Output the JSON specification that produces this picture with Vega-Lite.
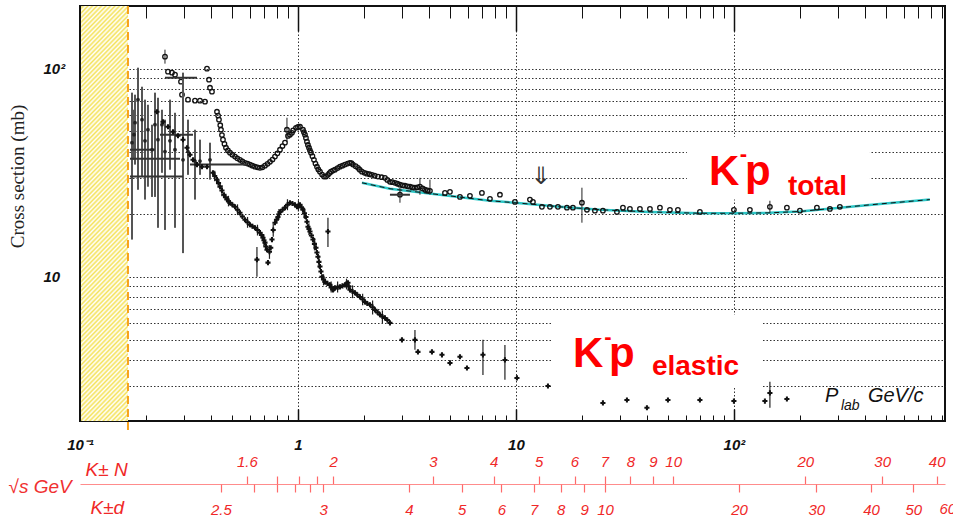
{
  "$schema": "https://vega.github.io/schema/vega-lite/v6.json",
  "width": 865,
  "height": 415,
  "autosize": {"type": "none"},
  "padding": {"left": 80, "top": 6, "right": 8, "bottom": 98},
  "background": "white",
  "config": {"view": {"stroke": "#111", "strokeWidth": 2}, "axis": {"grid": false, "domain": false}},
  "resolve": {"axis": {"x": "independent", "y": "independent"}},
  "datasets": {
    "hatch": [{"p1": 0.1012, "p2": 0.166}],
    "boxes": [
      {"p1": 60.85, "p2": 420.6, "s1": 23.5, "s2": 47.1},
      {"p1": 14.63, "p2": 135.8, "s1": 2.93, "s2": 6.57}
    ],
    "fit": [
      {"p": 1.966, "s": 28.3}, {"p": 2.6425, "s": 26.5}, {"p": 4.4817, "s": 24.8}, {"p": 7.6, "s": 23.2},
      {"p": 9.8946, "s": 22.7}, {"p": 15.916, "s": 21.7}, {"p": 24.282, "s": 21.0}, {"p": 41.187, "s": 20.5},
      {"p": 69.823, "s": 20.2}, {"p": 98.946, "s": 20.2}, {"p": 146.27, "s": 20.3}, {"p": 200.83, "s": 20.6},
      {"p": 306.35, "s": 21.5}, {"p": 467.3, "s": 22.4}, {"p": 792.6, "s": 23.5}
    ],
    "tot": [
      {"p": 0.2454, "s": 114.2, "lo": 105.7, "hi": 123.4},
      {"p": 0.2533, "s": 96.7}, {"p": 0.2642, "s": 95.7}, {"p": 0.2728, "s": 93.6}, {"p": 0.2906, "s": 86.6},
      {"p": 0.2937, "s": 75.0}, {"p": 0.3129, "s": 71.0}, {"p": 0.3369, "s": 70.2}, {"p": 0.3552, "s": 70.2},
      {"p": 0.3745, "s": 69.4}, {"p": 0.3825, "s": 100}, {"p": 0.3907, "s": 88.5}, {"p": 0.3948, "s": 81.0},
      {"p": 0.4032, "s": 77.5}, {"p": 0.425, "s": 62.1}, {"p": 0.4341, "s": 56.9}, {"p": 0.4434, "s": 50.9},
      {"p": 0.4529, "s": 45.6}, {"p": 0.4674, "s": 41.7}, {"p": 0.4876, "s": 39.5}, {"p": 0.5141, "s": 37.8},
      {"p": 0.5419, "s": 36.5}, {"p": 0.5713, "s": 35.3}, {"p": 0.6023, "s": 34.6}, {"p": 0.635, "s": 33.8},
      {"p": 0.6695, "s": 33.4}, {"p": 0.7058, "s": 34.2}, {"p": 0.744, "s": 35.7}, {"p": 0.7843, "s": 37.8},
      {"p": 0.827, "s": 40.8}, {"p": 0.8718, "s": 44.1}, {"p": 0.8903, "s": 50.9, "lo": 44.6, "hi": 58.1},
      {"p": 0.919, "s": 48.2}, {"p": 0.9386, "s": 49.2}, {"p": 0.9791, "s": 52.0}, {"p": 1.0214, "s": 52.6},
      {"p": 1.0541, "s": 50.9}, {"p": 1.0767, "s": 48.2}, {"p": 1.0997, "s": 44.6}, {"p": 1.1233, "s": 41.7},
      {"p": 1.1472, "s": 39.5}, {"p": 1.1841, "s": 36.5}, {"p": 1.2222, "s": 33.8}, {"p": 1.2616, "s": 32.0},
      {"p": 1.316, "s": 30.3}, {"p": 1.3726, "s": 30.9}, {"p": 1.4168, "s": 32.0}, {"p": 1.4781, "s": 32.7},
      {"p": 1.5584, "s": 33.8}, {"p": 1.6429, "s": 34.6}, {"p": 1.7318, "s": 35.3}, {"p": 1.7875, "s": 34.6},
      {"p": 1.8846, "s": 33.4}, {"p": 1.966, "s": 32.0}, {"p": 2.0727, "s": 31.3}, {"p": 2.1851, "s": 30.9},
      {"p": 2.328, "s": 30.3}, {"p": 2.5066, "s": 29.9}, {"p": 2.6425, "s": 28.6}, {"p": 2.7861, "s": 28.3},
      {"p": 2.9374, "s": 27.7}, {"p": 3.0964, "s": 27.4}, {"p": 3.264, "s": 27.1}, {"p": 3.4412, "s": 26.8},
      {"p": 3.6278, "s": 27.1, "lo": 24.8, "hi": 29.9}, {"p": 3.8247, "s": 26.2},
      {"p": 4.0321, "s": 25.9, "lo": 24.8, "hi": 29.3}, {"p": 4.7248, "s": 25.3}, {"p": 4.9809, "s": 25.6},
      {"p": 5.5355, "s": 24.2}, {"p": 6.1518, "s": 24.5}, {"p": 6.9823, "s": 25.3}, {"p": 7.6, "s": 23.7},
      {"p": 8.445, "s": 24.8}, {"p": 9.8946, "s": 22.9}, {"p": 11.594, "s": 23.5}, {"p": 11.967, "s": 22.9},
      {"p": 13.16, "s": 21.7}, {"p": 14.322, "s": 21.7}, {"p": 15.584, "s": 21.7}, {"p": 17.136, "s": 21.5},
      {"p": 18.255, "s": 21.5}, {"p": 20.082, "s": 22.7, "lo": 18.2, "hi": 26.8}, {"p": 21.171, "s": 21.0},
      {"p": 23.034, "s": 20.8}, {"p": 25.063, "s": 20.8}, {"p": 29.061, "s": 20.5}, {"p": 30.965, "s": 21.5},
      {"p": 33.336, "s": 21.2}, {"p": 37.052, "s": 21.2}, {"p": 41.187, "s": 21.2}, {"p": 45.779, "s": 21.5},
      {"p": 50.88, "s": 21.0}, {"p": 55.348, "s": 21.0}, {"p": 69.823, "s": 20.5}, {"p": 100, "s": 21.0},
      {"p": 118.41, "s": 21.0}, {"p": 146.27, "s": 21.7, "lo": 20.3, "hi": 23.2}, {"p": 175.04, "s": 21.5},
      {"p": 200.83, "s": 20.8}, {"p": 240.35, "s": 21.5}, {"p": 275.68, "s": 21.2}, {"p": 306.35, "s": 21.7},
      {"p": 2.9374, "s": 24.8, "lo": 22.7, "hi": 26.8},
      {"p": 0.43, "s": 59.5}, {"p": 0.44, "s": 53.5}, {"p": 0.448, "s": 48}, {"p": 0.46, "s": 43.5},
      {"p": 0.477, "s": 40.5}, {"p": 0.5, "s": 38.6}, {"p": 0.527, "s": 37.1}, {"p": 0.556, "s": 35.9},
      {"p": 0.587, "s": 35}, {"p": 0.618, "s": 34.2}, {"p": 0.652, "s": 33.6}, {"p": 0.687, "s": 33.6},
      {"p": 0.725, "s": 34.9}, {"p": 0.764, "s": 36.6}, {"p": 0.805, "s": 39.2}, {"p": 0.849, "s": 42.5},
      {"p": 0.9, "s": 47.5}, {"p": 0.95, "s": 50.5}, {"p": 1.0, "s": 52.5}, {"p": 1.065, "s": 49.5},
      {"p": 1.088, "s": 46.5}, {"p": 1.111, "s": 43}, {"p": 1.135, "s": 40.5}, {"p": 1.165, "s": 38},
      {"p": 1.203, "s": 35}, {"p": 1.24, "s": 32.8}, {"p": 1.29, "s": 31}, {"p": 1.345, "s": 30.3},
      {"p": 1.395, "s": 31.5}, {"p": 1.447, "s": 32.4}, {"p": 1.52, "s": 33.3}, {"p": 1.6, "s": 34.2},
      {"p": 1.69, "s": 35}, {"p": 1.76, "s": 35.2}, {"p": 1.84, "s": 34}, {"p": 1.92, "s": 32.7},
      {"p": 2.02, "s": 31.6}, {"p": 2.13, "s": 31.1}, {"p": 2.25, "s": 30.6}, {"p": 2.42, "s": 30.1},
      {"p": 2.57, "s": 29.2}, {"p": 2.71, "s": 28.5}, {"p": 2.86, "s": 28.0}, {"p": 3.02, "s": 27.5},
      {"p": 3.18, "s": 27.2}, {"p": 3.35, "s": 26.9}, {"p": 3.53, "s": 26.9}, {"p": 3.73, "s": 26.6},
      {"p": 3.93, "s": 26.0}
    ],
    "el": [
      {"p": 0.2255, "s": 62.1}, {"p": 0.2403, "s": 55.6}, {"p": 0.2533, "s": 52.6}, {"p": 0.2671, "s": 49.8},
      {"p": 0.2815, "s": 47.6}, {"p": 0.2969, "s": 45.6}, {"p": 0.3096, "s": 41.7}, {"p": 0.3196, "s": 38.6},
      {"p": 0.3299, "s": 36.5}, {"p": 0.3441, "s": 34.6}, {"p": 0.3628, "s": 33.8}, {"p": 0.3825, "s": 33.8},
      {"p": 0.4075, "s": 31.6}, {"p": 0.425, "s": 29.3}, {"p": 0.4387, "s": 27.1}, {"p": 0.4577, "s": 24.8},
      {"p": 0.4724, "s": 23.5}, {"p": 0.4876, "s": 22.7}, {"p": 0.5141, "s": 21.7}, {"p": 0.5419, "s": 20.3},
      {"p": 0.5713, "s": 18.8}, {"p": 0.6023, "s": 17.8}, {"p": 0.635, "s": 17.2}, {"p": 0.6695, "s": 16.3},
      {"p": 0.6911, "s": 15.4}, {"p": 0.7058, "s": 14.6}, {"p": 0.7209, "s": 13.5}, {"p": 0.7285, "s": 11.7},
      {"p": 0.7599, "s": 15.1}, {"p": 0.7843, "s": 18.2}, {"p": 0.8095, "s": 19.4}, {"p": 0.827, "s": 20.5},
      {"p": 0.8718, "s": 21.5}, {"p": 0.919, "s": 22.7}, {"p": 0.9688, "s": 22.2}, {"p": 0.9895, "s": 21.7},
      {"p": 1.0214, "s": 22.2}, {"p": 1.0541, "s": 21.0}, {"p": 1.0881, "s": 19.4}, {"p": 1.1114, "s": 17.4},
      {"p": 1.1352, "s": 16.5}, {"p": 1.1717, "s": 15.1}, {"p": 1.2093, "s": 13.8}, {"p": 1.235, "s": 12.5},
      {"p": 1.2616, "s": 11.2}, {"p": 1.2886, "s": 10.0}, {"p": 1.3301, "s": 9.46}, {"p": 1.4019, "s": 9.15},
      {"p": 1.4473, "s": 8.66}, {"p": 1.4781, "s": 8.85}, {"p": 1.5584, "s": 8.95}, {"p": 1.6429, "s": 9.15},
      {"p": 1.6958, "s": 9.36}, {"p": 1.7318, "s": 8.66}, {"p": 1.8258, "s": 8.38}, {"p": 1.9248, "s": 8.01},
      {"p": 2.0293, "s": 7.58}, {"p": 2.1396, "s": 7.34}, {"p": 2.2556, "s": 6.94}, {"p": 2.3776, "s": 6.57},
      {"p": 2.5066, "s": 6.35}, {"p": 2.6425, "s": 6.01}, {"p": 2.9999, "s": 4.98},
      {"p": 3.4412, "s": 4.98, "lo": 4.46, "hi": 5.56}, {"p": 3.5521, "s": 4.36}, {"p": 4.1182, "s": 4.36},
      {"p": 4.5776, "s": 4.22}, {"p": 4.9809, "s": 3.86}, {"p": 5.5355, "s": 4.13}, {"p": 5.9605, "s": 3.65},
      {"p": 7.0574, "s": 4.22, "lo": 3.38, "hi": 4.98}, {"p": 8.9022, "s": 3.99, "lo": 3.2, "hi": 4.71},
      {"p": 10.106, "s": 3.27}, {"p": 14.024, "s": 2.99}, {"p": 25.063, "s": 2.48}, {"p": 32.299, "s": 2.56},
      {"p": 39.901, "s": 2.35}, {"p": 49.815, "s": 2.56}, {"p": 69.823, "s": 2.56}, {"p": 100, "s": 2.53},
      {"p": 138.74, "s": 2.53}, {"p": 146.27, "s": 2.77, "lo": 2.35, "hi": 3.13}, {"p": 175.04, "s": 2.59},
      {"p": 0.6483, "s": 12.1, "lo": 10.0, "hi": 13.9}, {"p": 1.3726, "s": 16.5, "lo": 13.9, "hi": 19.2},
      {"p": 0.415, "s": 30.5, "lo": 28.8, "hi": 32.3}, {"p": 0.432, "s": 28.2}, {"p": 0.448, "s": 26, "lo": 24.4, "hi": 27.6},
      {"p": 0.465, "s": 24.1}, {"p": 0.48, "s": 23.1, "lo": 21.8, "hi": 24.5}, {"p": 0.5, "s": 22.2},
      {"p": 0.528, "s": 21, "lo": 19.8, "hi": 22.3}, {"p": 0.556, "s": 19.5}, {"p": 0.587, "s": 18.3, "lo": 17.2, "hi": 19.4},
      {"p": 0.618, "s": 17.5}, {"p": 0.652, "s": 16.8, "lo": 15.8, "hi": 17.8}, {"p": 0.68, "s": 15.9},
      {"p": 0.698, "s": 15, "lo": 14.0, "hi": 16.0}, {"p": 0.713, "s": 14}, {"p": 0.74, "s": 13.2, "lo": 12.2, "hi": 14.2},
      {"p": 0.75, "s": 13.8}, {"p": 0.77, "s": 16.8, "lo": 15.6, "hi": 18.0}, {"p": 0.797, "s": 18.8},
      {"p": 0.818, "s": 20, "lo": 18.8, "hi": 21.2}, {"p": 0.85, "s": 21}, {"p": 0.895, "s": 22.2, "lo": 20.9, "hi": 23.6},
      {"p": 0.943, "s": 22.5}, {"p": 1.005, "s": 21.9, "lo": 20.6, "hi": 23.3}, {"p": 1.037, "s": 21.6},
      {"p": 1.071, "s": 20.2, "lo": 19.0, "hi": 21.5}, {"p": 1.1, "s": 18.4}, {"p": 1.123, "s": 17, "lo": 15.9, "hi": 18.1},
      {"p": 1.153, "s": 15.8}, {"p": 1.19, "s": 14.4, "lo": 13.4, "hi": 15.4}, {"p": 1.222, "s": 13.1},
      {"p": 1.248, "s": 11.8, "lo": 11.0, "hi": 12.7}, {"p": 1.275, "s": 10.6}, {"p": 1.31, "s": 9.7, "lo": 9.1, "hi": 10.3},
      {"p": 1.365, "s": 9.3}, {"p": 1.42, "s": 8.9, "lo": 8.4, "hi": 9.5}, {"p": 1.46, "s": 8.75},
      {"p": 1.52, "s": 8.9, "lo": 8.4, "hi": 9.5}, {"p": 1.6, "s": 9.05}, {"p": 1.67, "s": 9.25, "lo": 8.7, "hi": 9.8},
      {"p": 1.71, "s": 9.0}, {"p": 1.78, "s": 8.5, "lo": 7.9, "hi": 9.1}, {"p": 1.87, "s": 8.2},
      {"p": 1.98, "s": 7.8, "lo": 7.3, "hi": 8.3}, {"p": 2.08, "s": 7.45}, {"p": 2.2, "s": 7.15, "lo": 6.6, "hi": 7.7},
      {"p": 2.32, "s": 6.75}, {"p": 2.44, "s": 6.45, "lo": 6.0, "hi": 6.9}, {"p": 2.57, "s": 6.2}
    ],
    "low": [
      {"p": 0.1732, "s": 44.1, "lo": 15.1, "hi": 76.7}, {"p": 0.1769, "s": 48.2, "lo": 36.5, "hi": 63.5},
      {"p": 0.1845, "s": 71.0, "lo": 26.2, "hi": 101.1}, {"p": 0.1925, "s": 56.9, "lo": 30.3, "hi": 81.9},
      {"p": 0.205, "s": 50.9, "lo": 27.1, "hi": 67.1}, {"p": 0.214, "s": 40.8, "lo": 24.2, "hi": 53.8},
      {"p": 0.2208, "s": 53.8, "lo": 24.2, "hi": 76.7}, {"p": 0.2279, "s": 45.6, "lo": 17.2, "hi": 72.5},
      {"p": 0.2377, "s": 53.8, "lo": 31.6, "hi": 63.5}, {"p": 0.2728, "s": 40.8, "lo": 17.2, "hi": 61.4},
      {"p": 0.2969, "s": 36.5, "lo": 13.0, "hi": 95.7}, {"p": 0.3948, "s": 36.5, "lo": 29.3, "hi": 44.1},
      {"p": 0.1788, "s": 55, "lo": 34.6, "hi": 75.0}, {"p": 0.1987, "s": 45, "lo": 23.5, "hi": 71.0},
      {"p": 0.2454, "s": 40, "lo": 16.8, "hi": 56.9}, {"p": 0.2587, "s": 45, "lo": 32.7, "hi": 71.0},
      {"p": 0.3129, "s": 40, "lo": 30.9, "hi": 56.9}, {"p": 0.3369, "s": 36, "lo": 23.5, "hi": 50.9},
      {"p": 0.3552, "s": 36, "lo": 30.9, "hi": 45.6}
    ],
    "hb": [
      {"s": 90.5, "p1": 0.2454, "p2": 0.3441}, {"s": 48.2, "p1": 0.2328, "p2": 0.3299},
      {"s": 40.8, "p1": 0.1696, "p2": 0.2208}, {"s": 36.9, "p1": 0.1696, "p2": 0.2876},
      {"s": 30.3, "p1": 0.1696, "p2": 0.2969}, {"s": 34.6, "p1": 0.3196, "p2": 0.5836},
      {"s": 24.8, "p1": 2.6425, "p2": 3.264}
    ],
    "big": [
      {"p": 76.8, "s": 27.7, "t": "K"}, {"p": 112.3, "s": 27.7, "t": "p"},
      {"p": 18.25, "s": 3.69, "t": "K"}, {"p": 26.71, "s": 3.69, "t": "p"}
    ],
    "sup": [{"p": 106.5, "s": 36.1, "t": "-"}, {"p": 25.4, "s": 4.76, "t": "-"}],
    "sub": [{"p": 176.9, "s": 24.8, "t": "total"}, {"p": 42.06, "s": 3.38, "t": "elastic"}],
    "plab": [{"p": 261.5, "s": 2.506, "t": "P"}, {"p": 411.9, "s": 2.506, "t": "GeV/c"}],
    "plabsub": [{"p": 309.6, "s": 2.294, "t": "lab"}],
    "arrow": [{"p": 13.02, "s": 30.1, "t": "⇓"}],
    "edge": [{"p": 958.69, "s": 0.725, "t": "60"}]
  },
  "layer": [
    {
      "data": {"name": "hatch"},
      "mark": {"type": "rect", "fill": {"gradient": "linear", "x1": 0, "y1": 0, "x2": 0.1275, "y2": 1.101, "stops": [
        {"offset": 0, "color": "#fff"}, {"offset": 0.005, "color": "#f4e25a"}, {"offset": 0.01, "color": "#fff"}, {"offset": 0.015, "color": "#f4e25a"},
        {"offset": 0.02, "color": "#fff"}, {"offset": 0.025, "color": "#f4e25a"}, {"offset": 0.03, "color": "#fff"}, {"offset": 0.035, "color": "#f4e25a"},
        {"offset": 0.04, "color": "#fff"}, {"offset": 0.045, "color": "#f4e25a"}, {"offset": 0.05, "color": "#fff"}, {"offset": 0.055, "color": "#f4e25a"},
        {"offset": 0.06, "color": "#fff"}, {"offset": 0.065, "color": "#f4e25a"}, {"offset": 0.07, "color": "#fff"}, {"offset": 0.075, "color": "#f4e25a"},
        {"offset": 0.08, "color": "#fff"}, {"offset": 0.085, "color": "#f4e25a"}, {"offset": 0.09, "color": "#fff"}, {"offset": 0.095, "color": "#f4e25a"},
        {"offset": 0.1, "color": "#fff"}, {"offset": 0.105, "color": "#f4e25a"}, {"offset": 0.11, "color": "#fff"}, {"offset": 0.115, "color": "#f4e25a"},
        {"offset": 0.12, "color": "#fff"}, {"offset": 0.125, "color": "#f4e25a"}, {"offset": 0.13, "color": "#fff"}, {"offset": 0.135, "color": "#f4e25a"},
        {"offset": 0.14, "color": "#fff"}, {"offset": 0.145, "color": "#f4e25a"}, {"offset": 0.15, "color": "#fff"}, {"offset": 0.155, "color": "#f4e25a"},
        {"offset": 0.16, "color": "#fff"}, {"offset": 0.165, "color": "#f4e25a"}, {"offset": 0.17, "color": "#fff"}, {"offset": 0.175, "color": "#f4e25a"},
        {"offset": 0.18, "color": "#fff"}, {"offset": 0.185, "color": "#f4e25a"}, {"offset": 0.19, "color": "#fff"}, {"offset": 0.195, "color": "#f4e25a"},
        {"offset": 0.2, "color": "#fff"}, {"offset": 0.205, "color": "#f4e25a"}, {"offset": 0.21, "color": "#fff"}, {"offset": 0.215, "color": "#f4e25a"},
        {"offset": 0.22, "color": "#fff"}, {"offset": 0.225, "color": "#f4e25a"}, {"offset": 0.23, "color": "#fff"}, {"offset": 0.235, "color": "#f4e25a"},
        {"offset": 0.24, "color": "#fff"}, {"offset": 0.245, "color": "#f4e25a"}, {"offset": 0.25, "color": "#fff"}, {"offset": 0.255, "color": "#f4e25a"},
        {"offset": 0.26, "color": "#fff"}, {"offset": 0.265, "color": "#f4e25a"}, {"offset": 0.27, "color": "#fff"}, {"offset": 0.275, "color": "#f4e25a"},
        {"offset": 0.28, "color": "#fff"}, {"offset": 0.285, "color": "#f4e25a"}, {"offset": 0.29, "color": "#fff"}, {"offset": 0.295, "color": "#f4e25a"},
        {"offset": 0.3, "color": "#fff"}, {"offset": 0.305, "color": "#f4e25a"}, {"offset": 0.31, "color": "#fff"}, {"offset": 0.315, "color": "#f4e25a"},
        {"offset": 0.32, "color": "#fff"}, {"offset": 0.325, "color": "#f4e25a"}, {"offset": 0.33, "color": "#fff"}, {"offset": 0.335, "color": "#f4e25a"},
        {"offset": 0.34, "color": "#fff"}, {"offset": 0.345, "color": "#f4e25a"}, {"offset": 0.35, "color": "#fff"}, {"offset": 0.355, "color": "#f4e25a"},
        {"offset": 0.36, "color": "#fff"}, {"offset": 0.365, "color": "#f4e25a"}, {"offset": 0.37, "color": "#fff"}, {"offset": 0.375, "color": "#f4e25a"},
        {"offset": 0.38, "color": "#fff"}, {"offset": 0.385, "color": "#f4e25a"}, {"offset": 0.39, "color": "#fff"}, {"offset": 0.395, "color": "#f4e25a"},
        {"offset": 0.4, "color": "#fff"}, {"offset": 0.405, "color": "#f4e25a"}, {"offset": 0.41, "color": "#fff"}, {"offset": 0.415, "color": "#f4e25a"},
        {"offset": 0.42, "color": "#fff"}, {"offset": 0.425, "color": "#f4e25a"}, {"offset": 0.43, "color": "#fff"}, {"offset": 0.435, "color": "#f4e25a"},
        {"offset": 0.44, "color": "#fff"}, {"offset": 0.445, "color": "#f4e25a"}, {"offset": 0.45, "color": "#fff"}, {"offset": 0.455, "color": "#f4e25a"},
        {"offset": 0.46, "color": "#fff"}, {"offset": 0.465, "color": "#f4e25a"}, {"offset": 0.47, "color": "#fff"}, {"offset": 0.475, "color": "#f4e25a"},
        {"offset": 0.48, "color": "#fff"}, {"offset": 0.485, "color": "#f4e25a"}, {"offset": 0.49, "color": "#fff"}, {"offset": 0.495, "color": "#f4e25a"},
        {"offset": 0.5, "color": "#fff"}, {"offset": 0.505, "color": "#f4e25a"}, {"offset": 0.51, "color": "#fff"}, {"offset": 0.515, "color": "#f4e25a"},
        {"offset": 0.52, "color": "#fff"}, {"offset": 0.525, "color": "#f4e25a"}, {"offset": 0.53, "color": "#fff"}, {"offset": 0.535, "color": "#f4e25a"},
        {"offset": 0.54, "color": "#fff"}, {"offset": 0.545, "color": "#f4e25a"}, {"offset": 0.55, "color": "#fff"}, {"offset": 0.555, "color": "#f4e25a"},
        {"offset": 0.56, "color": "#fff"}, {"offset": 0.565, "color": "#f4e25a"}, {"offset": 0.57, "color": "#fff"}, {"offset": 0.575, "color": "#f4e25a"},
        {"offset": 0.58, "color": "#fff"}, {"offset": 0.585, "color": "#f4e25a"}, {"offset": 0.59, "color": "#fff"}, {"offset": 0.595, "color": "#f4e25a"},
        {"offset": 0.6, "color": "#fff"}, {"offset": 0.605, "color": "#f4e25a"}, {"offset": 0.61, "color": "#fff"}, {"offset": 0.615, "color": "#f4e25a"},
        {"offset": 0.62, "color": "#fff"}, {"offset": 0.625, "color": "#f4e25a"}, {"offset": 0.63, "color": "#fff"}, {"offset": 0.635, "color": "#f4e25a"},
        {"offset": 0.64, "color": "#fff"}, {"offset": 0.645, "color": "#f4e25a"}, {"offset": 0.65, "color": "#fff"}, {"offset": 0.655, "color": "#f4e25a"},
        {"offset": 0.66, "color": "#fff"}, {"offset": 0.665, "color": "#f4e25a"}, {"offset": 0.67, "color": "#fff"}, {"offset": 0.675, "color": "#f4e25a"},
        {"offset": 0.68, "color": "#fff"}, {"offset": 0.685, "color": "#f4e25a"}, {"offset": 0.69, "color": "#fff"}, {"offset": 0.695, "color": "#f4e25a"},
        {"offset": 0.7, "color": "#fff"}, {"offset": 0.705, "color": "#f4e25a"}, {"offset": 0.71, "color": "#fff"}, {"offset": 0.715, "color": "#f4e25a"},
        {"offset": 0.72, "color": "#fff"}, {"offset": 0.725, "color": "#f4e25a"}, {"offset": 0.73, "color": "#fff"}, {"offset": 0.735, "color": "#f4e25a"},
        {"offset": 0.74, "color": "#fff"}, {"offset": 0.745, "color": "#f4e25a"}, {"offset": 0.75, "color": "#fff"}, {"offset": 0.755, "color": "#f4e25a"},
        {"offset": 0.76, "color": "#fff"}, {"offset": 0.765, "color": "#f4e25a"}, {"offset": 0.77, "color": "#fff"}, {"offset": 0.775, "color": "#f4e25a"},
        {"offset": 0.78, "color": "#fff"}, {"offset": 0.785, "color": "#f4e25a"}, {"offset": 0.79, "color": "#fff"}, {"offset": 0.795, "color": "#f4e25a"},
        {"offset": 0.8, "color": "#fff"}, {"offset": 0.805, "color": "#f4e25a"}, {"offset": 0.81, "color": "#fff"}, {"offset": 0.815, "color": "#f4e25a"},
        {"offset": 0.82, "color": "#fff"}, {"offset": 0.825, "color": "#f4e25a"}, {"offset": 0.83, "color": "#fff"}, {"offset": 0.835, "color": "#f4e25a"},
        {"offset": 0.84, "color": "#fff"}, {"offset": 0.845, "color": "#f4e25a"}, {"offset": 0.85, "color": "#fff"}, {"offset": 0.855, "color": "#f4e25a"},
        {"offset": 0.86, "color": "#fff"}, {"offset": 0.865, "color": "#f4e25a"}, {"offset": 0.87, "color": "#fff"}, {"offset": 0.875, "color": "#f4e25a"},
        {"offset": 0.88, "color": "#fff"}, {"offset": 0.885, "color": "#f4e25a"}, {"offset": 0.89, "color": "#fff"}, {"offset": 0.895, "color": "#f4e25a"},
        {"offset": 0.9, "color": "#fff"}, {"offset": 0.905, "color": "#f4e25a"}, {"offset": 0.91, "color": "#fff"}, {"offset": 0.915, "color": "#f4e25a"},
        {"offset": 0.92, "color": "#fff"}, {"offset": 0.925, "color": "#f4e25a"}, {"offset": 0.93, "color": "#fff"}, {"offset": 0.935, "color": "#f4e25a"},
        {"offset": 0.94, "color": "#fff"}, {"offset": 0.945, "color": "#f4e25a"}, {"offset": 0.95, "color": "#fff"}, {"offset": 0.955, "color": "#f4e25a"},
        {"offset": 0.96, "color": "#fff"}, {"offset": 0.965, "color": "#f4e25a"}, {"offset": 0.97, "color": "#fff"}, {"offset": 0.975, "color": "#f4e25a"},
        {"offset": 0.98, "color": "#fff"}, {"offset": 0.985, "color": "#f4e25a"}, {"offset": 0.99, "color": "#fff"}, {"offset": 0.995, "color": "#f4e25a"},
        {"offset": 1, "color": "#fff"}
      ]}},
      "encoding": {
        "x": {"field": "p1", "type": "quantitative", "scale": {"type": "log", "domain": [0.1, 930], "nice": false},
          "axis": {"orient": "bottom", "values": [0.1, 1, 10, 100], "tickSize": -12, "tickColor": "#111", "tickWidth": 1.5,
            "labelExpr": "datum.value < 0.5 ? '10⁻¹' : datum.value < 5 ? '1' : datum.value < 50 ? '10' : '10²'",
            "labelFont": "Liberation Sans", "labelFontSize": 15, "labelFontWeight": "bold", "labelFontStyle": "italic",
            "labelColor": "#111", "labelBaseline": "alphabetic", "labelAlign": "center", "labelPadding": 40, "labelFlush": false, "labelOverlap": false,
            "grid": false, "domain": false,
            "title": "√s GeV", "titleX": -72, "titleY": 71, "titleAlign": "left", "titleBaseline": "alphabetic", "titleAngle": 0,
            "titleFont": "Liberation Sans", "titleFontSize": 19, "titleFontStyle": "italic", "titleFontWeight": "normal", "titleColor": "#f03030"}},
        "x2": {"field": "p2"},
        "y": {"datum": 200, "type": "quantitative", "scale": {"type": "log", "domain": [2.03, 200], "nice": false},
          "axis": {"orient": "left", "values": [10, 100], "tickSize": -8, "tickColor": "#111", "tickWidth": 1.5,
            "labelExpr": "datum.value > 50 ? '10²' : '10'", "labelAlign": "left", "labelBaseline": "middle", "labelPadding": 45,
            "labelFont": "Liberation Sans", "labelFontSize": 15, "labelFontWeight": "bold", "labelFontStyle": "italic", "labelColor": "#111",
            "labelFlush": false, "labelOverlap": false, "grid": false, "domain": false,
            "title": "Cross section (mb)", "titleX": -63, "titleY": 170, "titleAngle": 270, "titleAlign": "center", "titleBaseline": "middle",
            "titleFont": "Liberation Serif", "titleFontSize": 19, "titleFontWeight": "normal", "titleColor": "#222"}},
        "y2": {"datum": 2.03}
      }
    },
    {
      "data": {"name": "boxes"},
      "mark": {"type": "rect", "fill": "white"},
      "encoding": {
        "x": {"field": "p1", "type": "quantitative", "scale": {"type": "log"},
          "axis": {"orient": "bottom", "values": [0.2, 0.3, 0.4, 0.5, 0.6, 0.7, 0.8, 0.9, 2, 3, 4, 5, 6, 7, 8, 9, 20, 30, 40, 50, 60, 70, 80, 90, 200, 300, 400, 500, 600, 700, 800, 900],
            "tickSize": -6, "tickColor": "#111", "tickWidth": 1, "labels": false, "grid": false, "domain": false, "title": null}},
        "x2": {"field": "p2"},
        "y": {"field": "s1", "type": "quantitative", "scale": {"type": "log"},
          "axis": {"orient": "left", "values": [3, 4, 5, 6, 7, 8, 9, 20, 30, 40, 50, 60, 70, 80, 90],
            "tickSize": -4, "tickColor": "#111", "tickWidth": 1, "labels": false, "grid": false, "domain": false, "title": null}},
        "y2": {"field": "s2"}
      }
    },
    {
      "data": {"name": "fit"},
      "mark": {"type": "line", "color": "#2cc6c6", "strokeWidth": 2.5},
      "encoding": {
        "x": {"field": "p", "type": "quantitative", "scale": {"type": "log"},
          "axis": {"orient": "top", "values": [1, 10, 100], "tickSize": -25, "tickColor": "#111", "tickWidth": 1.5, "labels": false, "grid": false, "domain": false, "title": null}},
        "y": {"field": "s", "type": "quantitative", "scale": {"type": "log"},
          "axis": {"orient": "left", "values": [3, 4, 5, 6, 7, 8, 9, 10, 20, 30, 40, 50, 60, 70, 80, 90, 100],
            "grid": true, "gridColor": "#333", "gridDash": [1.5, 2], "gridWidth": 1, "ticks": false, "labels": false, "domain": false, "title": null}}
      }
    },
    {
      "data": {"name": "fit"},
      "mark": {"type": "line", "color": "#111", "strokeWidth": 1, "strokeDash": [5, 4]},
      "encoding": {
        "x": {"field": "p", "type": "quantitative", "scale": {"type": "log"}, "axis": null},
        "y": {"field": "s", "type": "quantitative", "scale": {"type": "log"}, "axis": null}
      }
    },
    {
      "data": {"name": "tot"},
      "transform": [{"filter": "isValid(datum.lo)"}],
      "mark": {"type": "rule", "color": "#222", "strokeWidth": 1},
      "encoding": {
        "x": {"field": "p", "type": "quantitative", "scale": {"type": "log"},
          "axis": {"orient": "bottom", "values": [1, 10, 100], "grid": true, "gridColor": "#333", "gridDash": [1.5, 2], "gridWidth": 1,
            "ticks": false, "labels": false, "domain": false, "title": null}},
        "y": {"field": "lo", "type": "quantitative", "scale": {"type": "log"}, "axis": null},
        "y2": {"field": "hi"}
      }
    },
    {
      "data": {"name": "tot"},
      "mark": {"type": "point", "shape": "circle", "size": 20, "filled": false, "stroke": "#111", "strokeWidth": 1.3, "opacity": 1},
      "encoding": {
        "x": {"field": "p", "type": "quantitative", "scale": {"type": "log"},
          "axis": {"orient": "top", "values": [0.2, 0.3, 0.4, 0.5, 0.6, 0.7, 0.8, 0.9, 2, 3, 4, 5, 6, 7, 8, 9, 20, 30, 40, 50, 60, 70, 80, 90, 200, 300, 400, 500, 600, 700, 800, 900],
            "tickSize": -12, "tickColor": "#111", "tickWidth": 1, "labels": false, "grid": false, "domain": false, "title": null}},
        "y": {"field": "s", "type": "quantitative", "scale": {"type": "log"}, "axis": null}
      }
    },
    {
      "data": {"name": "low"},
      "mark": {"type": "rule", "color": "#555", "strokeWidth": 2},
      "encoding": {
        "x": {"field": "p", "type": "quantitative", "scale": {"type": "log"},
          "axis": {"orient": "top", "offset": -478,
            "values": [0.5831, 0.7997, 1.0122, 1.2277, 1.4491, 4.1644, 7.906, 12.705, 18.566, 25.49, 33.48, 42.533, 52.652, 212.42, 478.69, 851.46],
            "labelExpr": "['1.6','','','','2','3','4','5','6','7','8','9','10','20','30','40'][indexof([0.5831, 0.7997, 1.0122, 1.2277, 1.4491, 4.1644, 7.906, 12.705, 18.566, 25.49, 33.48, 42.533, 52.652, 212.42, 478.69, 851.46], datum.value)]",
            "tickSize": 8, "tickColor": "#ff6a6a", "tickWidth": 1.2, "domain": true, "domainColor": "#ff8c8c", "domainWidth": 1.2,
            "labelColor": "#f02828", "labelFont": "Liberation Sans", "labelFontStyle": "italic", "labelFontSize": 15,
            "labelBaseline": "alphabetic", "labelAlign": "center", "labelPadding": 10, "labelFlush": false, "labelOverlap": false, "grid": false,
            "title": "K± N", "titleX": 5, "titleY": -9, "titleAlign": "left", "titleBaseline": "alphabetic", "titleAngle": 0,
            "titleFont": "Liberation Sans", "titleFontStyle": "italic", "titleFontWeight": "normal", "titleFontSize": 19, "titleColor": "#f02828"}},
        "y": {"field": "lo", "type": "quantitative", "scale": {"type": "log"}, "axis": null},
        "y2": {"field": "hi"}
      }
    },
    {
      "data": {"name": "hb"},
      "mark": {"type": "rule", "color": "#333", "strokeWidth": 2},
      "encoding": {
        "x": {"field": "p1", "type": "quantitative", "scale": {"type": "log"},
          "axis": {"orient": "bottom", "offset": 63,
            "values": [0.4431, 0.6286, 0.8006, 0.9687, 1.1366, 1.3063, 3.225, 5.6402, 8.58, 12.05, 16.051, 20.584, 25.651, 105.63, 238.92, 425.53, 665.45],
            "labelExpr": "['2.5','','','','','3','4','5','6','7','8','9','10','20','30','40','50'][indexof([0.4431, 0.6286, 0.8006, 0.9687, 1.1366, 1.3063, 3.225, 5.6402, 8.58, 12.05, 16.051, 20.584, 25.651, 105.63, 238.92, 425.53, 665.45], datum.value)]",
            "tickSize": 8, "tickColor": "#ff6a6a", "tickWidth": 1.2, "domain": false,
            "labelColor": "#f02828", "labelFont": "Liberation Sans", "labelFontStyle": "italic", "labelFontSize": 15,
            "labelBaseline": "alphabetic", "labelAlign": "center", "labelPadding": 22, "labelFlush": false, "labelOverlap": false, "grid": false,
            "title": "K±d", "titleX": 10, "titleY": 29, "titleAlign": "left", "titleBaseline": "alphabetic", "titleAngle": 0,
            "titleFont": "Liberation Sans", "titleFontStyle": "italic", "titleFontWeight": "normal", "titleFontSize": 19, "titleColor": "#f02828"}},
        "x2": {"field": "p2"},
        "y": {"field": "s", "type": "quantitative", "scale": {"type": "log"}, "axis": null}
      }
    },
    {
      "data": {"name": "low"},
      "mark": {"type": "point", "shape": "circle", "size": 14, "filled": true, "color": "#222", "opacity": 1},
      "encoding": {
        "x": {"field": "p", "type": "quantitative", "scale": {"type": "log"}, "axis": null},
        "y": {"field": "s", "type": "quantitative", "scale": {"type": "log"}, "axis": null}
      }
    },
    {
      "data": {"name": "el"},
      "transform": [{"filter": "isValid(datum.lo)"}],
      "mark": {"type": "rule", "color": "#222", "strokeWidth": 1.2},
      "encoding": {
        "x": {"field": "p", "type": "quantitative", "scale": {"type": "log"}, "axis": null},
        "y": {"field": "lo", "type": "quantitative", "scale": {"type": "log"}, "axis": null},
        "y2": {"field": "hi"}
      }
    },
    {
      "data": {"name": "el"},
      "mark": {"type": "point", "shape": "cross", "size": 26, "filled": true, "color": "#111", "opacity": 1},
      "encoding": {
        "x": {"field": "p", "type": "quantitative", "scale": {"type": "log"}, "axis": null},
        "y": {"field": "s", "type": "quantitative", "scale": {"type": "log"}, "axis": null}
      }
    },
    {
      "data": {"name": "hatch"},
      "mark": {"type": "rule", "color": "#f7a21b", "strokeWidth": 2, "strokeDash": [8, 5], "clip": false},
      "encoding": {
        "x": {"field": "p2", "type": "quantitative", "scale": {"type": "log"}, "axis": null},
        "y": {"datum": 200, "type": "quantitative", "scale": {"type": "log"}, "axis": null},
        "y2": {"datum": 1.84}
      }
    },
    {
      "data": {"name": "edge"},
      "mark": {"type": "text", "align": "center", "baseline": "alphabetic", "font": "Liberation Sans", "fontSize": 15, "fontStyle": "italic", "color": "#f02828", "clip": false},
      "encoding": {
        "x": {"field": "p", "type": "quantitative", "scale": {"type": "log"}, "axis": null},
        "y": {"field": "s", "type": "quantitative", "scale": {"type": "log"}, "axis": null},
        "text": {"field": "t"}
      }
    },
    {
      "data": {"name": "big"},
      "mark": {"type": "text", "align": "left", "baseline": "alphabetic", "font": "Liberation Sans", "fontSize": 42, "fontWeight": "bold", "color": "#ff0000"},
      "encoding": {
        "x": {"field": "p", "type": "quantitative", "scale": {"type": "log"}, "axis": null},
        "y": {"field": "s", "type": "quantitative", "scale": {"type": "log"}, "axis": null},
        "text": {"field": "t"}
      }
    },
    {
      "data": {"name": "sup"},
      "mark": {"type": "text", "align": "left", "baseline": "alphabetic", "font": "Liberation Sans", "fontSize": 22, "fontWeight": "bold", "color": "#ff0000"},
      "encoding": {
        "x": {"field": "p", "type": "quantitative", "scale": {"type": "log"}, "axis": null},
        "y": {"field": "s", "type": "quantitative", "scale": {"type": "log"}, "axis": null},
        "text": {"field": "t"}
      }
    },
    {
      "data": {"name": "sub"},
      "mark": {"type": "text", "align": "left", "baseline": "alphabetic", "font": "Liberation Sans", "fontSize": 28, "fontWeight": "bold", "color": "#ff0000"},
      "encoding": {
        "x": {"field": "p", "type": "quantitative", "scale": {"type": "log"}, "axis": null},
        "y": {"field": "s", "type": "quantitative", "scale": {"type": "log"}, "axis": null},
        "text": {"field": "t"}
      }
    },
    {
      "data": {"name": "plab"},
      "mark": {"type": "text", "align": "left", "baseline": "alphabetic", "font": "Liberation Sans", "fontSize": 20, "fontStyle": "italic", "color": "#111"},
      "encoding": {
        "x": {"field": "p", "type": "quantitative", "scale": {"type": "log"}, "axis": null},
        "y": {"field": "s", "type": "quantitative", "scale": {"type": "log"}, "axis": null},
        "text": {"field": "t"}
      }
    },
    {
      "data": {"name": "plabsub"},
      "mark": {"type": "text", "align": "left", "baseline": "alphabetic", "font": "Liberation Sans", "fontSize": 14, "fontStyle": "italic", "color": "#111"},
      "encoding": {
        "x": {"field": "p", "type": "quantitative", "scale": {"type": "log"}, "axis": null},
        "y": {"field": "s", "type": "quantitative", "scale": {"type": "log"}, "axis": null},
        "text": {"field": "t"}
      }
    },
    {
      "data": {"name": "arrow"},
      "mark": {"type": "text", "align": "center", "baseline": "middle", "font": "DejaVu Sans", "fontSize": 24, "color": "#333"},
      "encoding": {
        "x": {"field": "p", "type": "quantitative", "scale": {"type": "log"}, "axis": null},
        "y": {"field": "s", "type": "quantitative", "scale": {"type": "log"}, "axis": null},
        "text": {"field": "t"}
      }
    }
  ]
}
